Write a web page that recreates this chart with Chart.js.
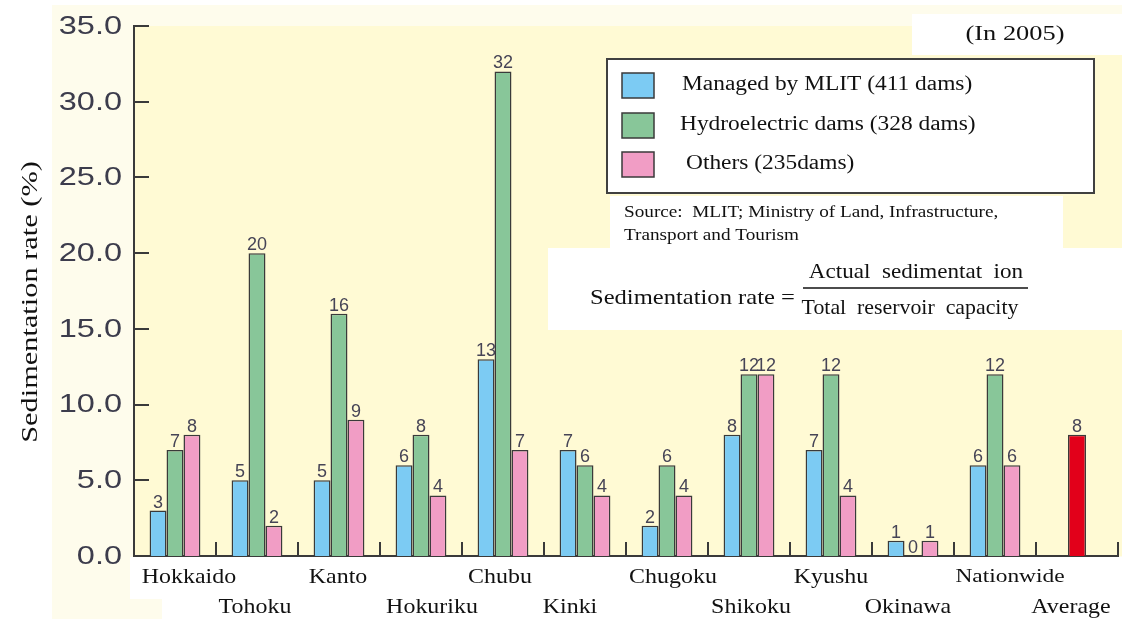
<!DOCTYPE html>
<html>
<head>
<meta charset="utf-8">
<script src="https://cdn.jsdelivr.net/npm/chart.js@4.4.0/dist/chart.umd.min.js"></script>
<style>
  html, body { margin: 0; padding: 0; background: #fff; }
</style>
</head>
<body>
<canvas id="sed" width="1122" height="619"></canvas>
<script>
// Sedimentation rate by region (In 2005)
const regions = ['Hokkaido', 'Tohoku', 'Kanto', 'Hokuriku', 'Chubu', 'Kinki',
  'Chugoku', 'Shikoku', 'Kyushu', 'Okinawa', 'Nationwide', 'Average'];
const mlitRates  = [3, 5, 5, 6, 13, 7, 2, 8, 7, 1, 6, null];
const hydroRates = [7, 20, 16, 8, 32, 6, 6, 12, 12, 0, 12, null];
const otherRates = [8, 2, 9, 4, 7, 4, 4, 12, 4, 1, 6, null];
const averageRate = [null, null, null, null, null, null, null, null, null, null, null, 8];
const yTicks = [0, 5, 10, 15, 20, 25, 30, 35];
const seriesNames = ['Managed by MLIT (411 dams)', 'Hydroelectric dams (328 dams)', 'Others (235dams)'];

const lineCol = '#3a3a3a';
// the region names in the original are not quite centred under their groups
const labelNudge = [14, -2, -1, 11, -3, -15, 6, 2, 0, -5, 15, -6];

// draw text squeezed/stretched horizontally
function wideText(ctx, txt, x, y, font, sx, align, color) {
  ctx.save();
  ctx.font = font;
  ctx.fillStyle = color || '#111';
  ctx.textAlign = align || 'left';
  ctx.textBaseline = 'middle';
  ctx.translate(x, y);
  ctx.scale(sx, 1);
  ctx.fillText(txt, 0, 0);
  ctx.restore();
}

const backdrop = {
  id: 'backdrop',
  beforeDraw(chart) {
    const c = chart.ctx, a = chart.chartArea;
    c.save();
    c.fillStyle = '#fff';
    c.fillRect(0, 0, chart.width, chart.height);
    c.fillStyle = '#fefcec';
    c.fillRect(52, 5, chart.width - 52, chart.height - 5);
    c.fillStyle = '#fffad4';
    c.fillRect(a.left, a.top, chart.width - a.left, a.bottom - a.top);
    c.fillStyle = '#fff';
    c.fillRect(130, a.bottom + 1, chart.width - 130, 42);
    c.fillRect(162, a.bottom + 42, chart.width - 162, chart.height);
    c.restore();
  }
};

const valueLabels = {
  id: 'valueLabels',
  afterDatasetsDraw(chart) {
    const c = chart.ctx;
    c.save();
    c.font = '18px "Liberation Sans", Arial, sans-serif';
    c.fillStyle = '#464456';
    c.textAlign = 'center';
    c.textBaseline = 'alphabetic';
    chart.data.datasets.forEach((ds, i) => {
      const meta = chart.getDatasetMeta(i);
      meta.data.forEach((bar, j) => {
        const v = ds.data[j];
        if (v === null) return;
        c.fillText(String(v), bar.x, bar.y - 3);
      });
    });
    c.restore();
  }
};

const decorations = {
  id: 'decorations',
  afterDraw(chart) {
    const c = chart.ctx, a = chart.chartArea;
    const xs = chart.scales.x, ys = chart.scales.y;

    c.save();
    c.strokeStyle = lineCol;
    c.lineWidth = 2;
    // inward y ticks
    yTicks.forEach(t => {
      if (t === 0) return;
      const y = Math.round(ys.getPixelForValue(t));
      c.beginPath(); c.moveTo(a.left, y); c.lineTo(a.left + 15, y); c.stroke();
    });
    // category separators
    for (let i = 0; i < regions.length; i++) {
      let x;
      if (i < regions.length - 1) x = (xs.getPixelForValue(i) + xs.getPixelForValue(i + 1)) / 2;
      else x = a.right;
      c.beginPath(); c.moveTo(x, a.bottom); c.lineTo(x, a.bottom - 14); c.stroke();
    }
    c.restore();

    // y tick labels
    yTicks.forEach(t => {
      wideText(c, t.toFixed(1), 122, ys.getPixelForValue(t) + 1,
        '25px "Liberation Sans", Arial, sans-serif', 1.3, 'right', '#3c3c4c');
    });

    // x labels, alternating rows
    regions.forEach((r, i) => {
      const x = xs.getPixelForValue(i) + labelNudge[i];
      const y = i % 2 === 0 ? 577 : 607;
      if (r === 'Nationwide') {
        wideText(c, r, x, y, '18px "Liberation Serif", "Times New Roman", serif', 1.3, 'center');
      } else {
        wideText(c, r, x, y, '21px "Liberation Serif", "Times New Roman", serif', 1.14, 'center');
      }
    });

    // y title
    c.save();
    c.translate(31, 302);
    c.rotate(-Math.PI / 2);
    wideText(c, 'Sedimentation rate (%)', 0, 0, '23px "Liberation Serif", "Times New Roman", serif', 1.32, 'center');
    c.restore();

    // (In 2005)
    c.fillStyle = '#fff';
    c.fillRect(912, 14, chart.width - 912, 41);
    wideText(c, '(In 2005)', 1015, 34, '22px "Liberation Serif", "Times New Roman", serif', 1.2, 'center');

    // legend box
    c.save();
    c.fillStyle = '#fff';
    c.fillRect(607, 59, 487, 134);
    c.strokeStyle = '#404040';
    c.lineWidth = 2;
    c.strokeRect(607, 59, 487, 134);
    c.restore();
    const rowsY = [85, 125, 164];
    const textX = [682, 680, 686];
    seriesNames.forEach((name, i) => {
      c.save();
      c.fillStyle = chart.data.datasets[i].backgroundColor;
      c.fillRect(622, rowsY[i] - 12, 32, 25);
      c.strokeStyle = lineCol;
      c.lineWidth = 1.5;
      c.strokeRect(622, rowsY[i] - 12, 32, 25);
      c.restore();
      wideText(c, name, textX[i], rowsY[i], '20px "Liberation Serif", "Times New Roman", serif', 1.17, 'left');
    });

    // source note
    c.fillStyle = '#fff';
    c.fillRect(610, 196, 453, 53);
    wideText(c, 'Source:  MLIT; Ministry of Land, Infrastructure,', 624, 213,
      '16px "Liberation Serif", "Times New Roman", serif', 1.2, 'left');
    wideText(c, 'Transport and Tourism', 624, 236,
      '16px "Liberation Serif", "Times New Roman", serif', 1.2, 'left');

    // formula box
    c.fillStyle = '#fff';
    c.fillRect(548, 248, chart.width - 548, 82);
    const ff = '21px "Liberation Serif", "Times New Roman", serif';
    wideText(c, 'Sedimentation rate =', 590, 298, ff, 1.17, 'left');
    wideText(c, 'Actual  sedimentat  ion', 916, 272, ff, 1.1, 'center');
    wideText(c, 'Total  reservoir  capacity', 910, 308, ff, 1.04, 'center');
    c.save();
    c.strokeStyle = '#111';
    c.lineWidth = 1.5;
    c.beginPath(); c.moveTo(803, 288); c.lineTo(1028, 288); c.stroke();
    c.restore();
  }
};

new Chart(document.getElementById('sed'), {
  type: 'bar',
  data: {
    labels: regions,
    datasets: [
      { label: seriesNames[0], data: mlitRates, backgroundColor: '#7ccbf3' },
      { label: seriesNames[1], data: hydroRates, backgroundColor: '#88c699' },
      { label: seriesNames[2], data: otherRates, backgroundColor: '#f19dc5' },
      { label: 'Average', data: averageRate, backgroundColor: '#e2001a', maxBarThickness: 18 }
    ]
  },
  options: {
    responsive: false,
    animation: false,
    layout: { padding: { left: 126, top: 26, right: 4, bottom: 55 } },
    datasets: {
      bar: {
        borderColor: lineCol,
        borderWidth: 1.5,
        categoryPercentage: 0.62,
        barPercentage: 1,
        skipNull: true
      }
    },
    plugins: {
      legend: { display: false },
      tooltip: { enabled: false }
    },
    scales: {
      x: {
        grid: { display: false },
        ticks: { display: false },
        border: { color: lineCol, width: 2 }
      },
      y: {
        min: 0,
        max: 35,
        grid: { display: false },
        ticks: { display: false, stepSize: 5 },
        border: { color: lineCol, width: 2 }
      }
    }
  },
  plugins: [backdrop, valueLabels, decorations]
});
</script>
</body>
</html>
